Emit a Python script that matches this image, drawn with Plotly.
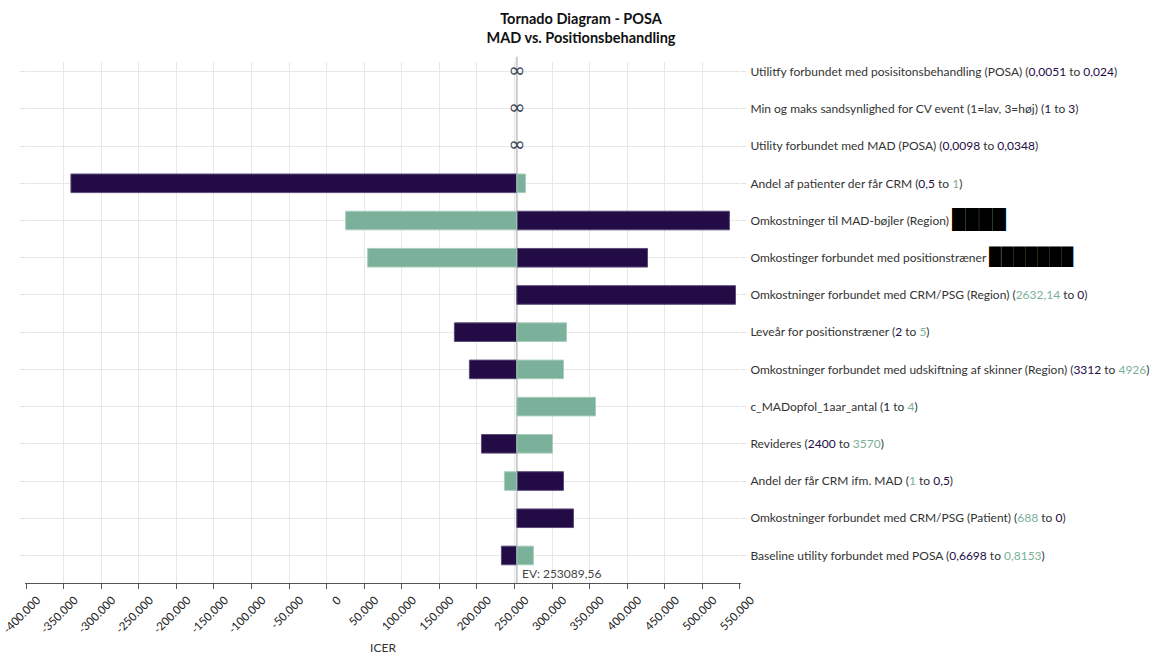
import plotly.graph_objs as go

# row labels, top to bottom
params = [
    "Utilitfy forbundet med posisitonsbehandling (POSA)",
    "Min og maks sandsynlighed for CV event (1=lav, 3=høj)",
    "Utility forbundet med MAD (POSA)",
    "Andel af patienter der får CRM",
    "Omkostninger til MAD-bøjler (Region)",
    "Omkostinger forbundet med positionstræner",
    "Omkostninger forbundet med CRM/PSG (Region)",
    "Leveår for positionstræner",
    "Omkostninger forbundet med udskiftning af skinner (Region)",
    "c_MADopfol_1aar_antal",
    "Revideres",
    "Andel der får CRM ifm. MAD",
    "Omkostninger forbundet med CRM/PSG (Patient)",
    "Baseline utility forbundet med POSA",
]
range_from = ["0,0051", "1", "0,0098", "0,5", None, None, "2632,14", "2", "3312", "1", "2400", "1", "688", "0,6698"]
range_to = ["0,024", "3", "0,0348", "1", None, None, "0", "5", "4926", "4", "3570", "0,5", "0", "0,8153"]
# which end of the range belongs to the green bar (0 = from, 1 = to)
green_end = [None, None, None, 1, None, None, 0, 1, 1, 1, 1, 0, 0, 1]
# redacted ranges in the source: (block count, font size)
redacted = [None, None, None, None, (4, 19), (7, 17), None, None, None, None, None, None, None, None]

# ICER at each end of the range
dark_icer = [None, None, None, -340300, 536000, 427000, 544100, 170000, 190000, None, 206000, 315200, 328500, 232600]
green_icer = [None, None, None, 264600, 25300, 54600, None, 319200, 315200, 357800, 300500, 236600, None, 275200]
infinite_rows = [0, 1, 2]

ev = 253089.56
x_ticks = list(range(-400000, 550001, 50000))
x_ticktext = [("-" if v < 0 else "") + "{:,}".format(abs(v)).replace(",", ".") for v in x_ticks]

dark = "#230b45"
green = "#7bb19a"
rows = list(range(len(params)))


def label(i):
    txt = params[i]
    if redacted[i]:
        n, sz = redacted[i]
        return txt + ' <span style="font-size:%dpx;color:black">%s</span>' % (sz, "█" * n)
    vals = [range_from[i], range_to[i]]
    cols = [dark, dark]
    if green_end[i] is not None:
        cols[green_end[i]] = green
    return (txt + ' (<span style="color:%s">%s</span> to <span style="color:%s">%s</span>)'
            % (cols[0], vals[0], cols[1], vals[1]))


ticktext = [label(i) for i in rows]

dark_bar = go.Bar(
    y=rows,
    x=[None if v is None else v - ev for v in dark_icer],
    base=ev,
    orientation='h',
    width=0.5,
    marker=dict(color=dark, line=dict(color="#5a4a78", width=1)),
    name='Low',
    showlegend=False
)

green_bar = go.Bar(
    y=rows,
    x=[None if v is None else v - ev for v in green_icer],
    base=ev,
    orientation='h',
    width=0.5,
    marker=dict(color=green, line=dict(color="#a9cdbd", width=1)),
    name='High',
    showlegend=False
)

inf_marks = go.Scatter(
    x=[ev] * len(infinite_rows),
    y=infinite_rows,
    mode='text',
    text=["∞"] * len(infinite_rows),
    textfont=dict(family="DejaVu Sans", size=20, color="#3a4656"),
    showlegend=False
)

layout = go.Layout(
    title=dict(
        text="<b>Tornado Diagram - POSA</b><br><b>MAD vs. Positionsbehandling</b>",
        x=0.5, xref='container', y=0.963, yref='container', yanchor='top',
        font=dict(size=14.5, color="#111")
    ),
    font=dict(family="Segoe UI, Lato, Open Sans, sans-serif", size=12, color="#333"),
    barmode='overlay',
    plot_bgcolor='white',
    paper_bgcolor='white',
    width=1162,
    height=657,
    margin=dict(l=26, r=422, t=62, b=74),
    xaxis=dict(
        range=[-400100, 550100],
        tickvals=x_ticks,
        ticktext=x_ticktext,
        tickangle=-45,
        tickfont=dict(size=11.5, color="#222"),
        ticklabeloverflow='allow',
        ticklabelshift=11,
        showgrid=True,
        gridcolor="#e8e8e8",
        zeroline=False,
        showline=True,
        linecolor="#555",
        linewidth=1,
        ticks='outside',
        ticklen=5,
        tickcolor="#555",
        automargin=False,
        title=dict(text="ICER", font=dict(size=12, color="#333"), standoff=8),
    ),
    yaxis=dict(
        range=[13.74, -0.26],
        tickvals=rows,
        ticktext=ticktext,
        side='right',
        showgrid=True,
        gridcolor="#e8e8e8",
        zeroline=False,
        showline=True,
        linecolor='rgba(0,0,0,0)',
        mirror='ticks',
        ticks='outside',
        ticklen=5,
        tickcolor="#e0e0e0",
        ticklabelstandoff=2,
        automargin=False,
        tickfont=dict(size=12, color="#333"),
    ),
    shapes=[dict(type='line', xref='x', yref='paper', x0=ev, x1=ev, y0=0, y1=1.01,
                 line=dict(color="#cccccc", width=2), layer='between')],
    annotations=[dict(x=ev, y=13.48, xref='x', yref='y', text="EV: 253089,56",
                      showarrow=False, xanchor='left', yanchor='middle', xshift=3,
                      font=dict(size=12, color="#444"))]
)

fig = go.Figure(data=[dark_bar, green_bar, inf_marks], layout=layout)
# page body has a default 8px margin, drop it so the figure sits at 0,0
fig.write_html("out.html", config={'displayModeBar': False},
               post_script="document.body.style.margin='0';")
